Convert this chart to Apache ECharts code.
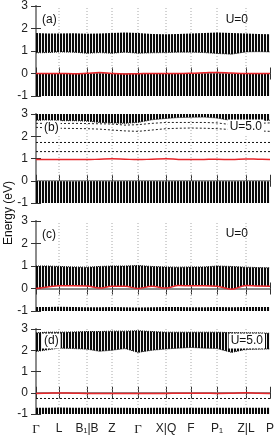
<!DOCTYPE html>
<html><head><meta charset="utf-8">
<script src="https://cdn.jsdelivr.net/npm/echarts@6/dist/echarts.min.js"></script>
<style>html,body{margin:0;padding:0;background:#fff}#c{width:279px;height:441px}</style>
</head><body><div id="c"></div>
<script>
// k-path positions of the high-symmetry points (arbitrary path-length units)
const kPoints = [0, 23, 51, 76, 102, 130, 155, 181, 210, 234];
const kLabels = ['Γ', 'L', 'B₁|B', 'Z', 'Γ', 'X|Q', 'F', 'P₁', 'Z|L', 'P'];
// k-sampling for the band edges
const kGrid = [0, 11.5, 23, 37, 51, 63.5, 76, 89, 102, 116, 130, 142.5, 155, 168, 181, 195.5, 210, 222, 234];
const yTicks = [-1, 0, 1, 2, 3];

// ---- panel (a) U=0
const aCondTop = [1.80, 1.78, 1.78, 1.79, 1.77, 1.78, 1.80, 1.82, 1.80, 1.76, 1.75, 1.76, 1.78, 1.80, 1.82, 1.80, 1.78, 1.76, 1.74];
const aCondBot = [0.92, 0.93, 0.96, 0.95, 0.90, 0.93, 0.90, 0.95, 0.90, 0.92, 0.93, 0.95, 0.95, 0.93, 0.89, 0.86, 0.96, 0.97, 0.96];
const aValTop  = [-0.01, -0.01, -0.01, -0.02, -0.01, 0.0, -0.01, -0.02, -0.02, -0.01, -0.01, -0.01, -0.01, 0.0, 0.0, -0.01, -0.01, -0.01, -0.01];
const aRed     = [0.0, 0.0, 0.0, -0.01, 0.01, 0.04, 0.0, -0.02, -0.01, 0.0, 0.0, 0.0, 0.01, 0.03, 0.05, 0.02, 0.0, 0.0, 0.0];

// ---- panel (b) U=5.0
const bUpBot   = [2.72, 2.72, 2.70, 2.70, 2.68, 2.62, 2.60, 2.58, 2.62, 2.74, 2.80, 2.84, 2.85, 2.86, 2.82, 2.70, 2.66, 2.70, 2.72];
const bDot1    = [2.58, 2.58, 2.57, 2.58, 2.57, 2.56, 2.55, 2.50, 2.52, 2.58, 2.62, 2.62, 2.62, 2.62, 2.60, 2.52, 2.55, 2.58, 2.60];
const bDot2    = [2.40, 2.38, 2.36, 2.35, 2.34, 2.32, 2.28, 2.24, 2.22, 2.28, 2.34, 2.36, 2.37, 2.36, 2.34, 2.30, 2.26, 2.24, 2.22];
const bFlat    = [1.72, 1.31];
const bRed     = [0.96, 0.96, 0.96, 0.95, 0.95, 0.97, 0.99, 0.97, 0.95, 0.97, 0.99, 0.96, 0.95, 0.96, 0.97, 0.95, 0.98, 0.97, 0.96];
const bValTop  = [-0.02, -0.02, -0.02, -0.03, -0.02, -0.02, -0.03, -0.02, -0.02, -0.02, -0.03, -0.02, -0.02, -0.03, -0.02, -0.03, -0.02, -0.02, -0.03];

// ---- panel (c) U=0
const cCondTop = [1.00, 1.00, 0.98, 0.96, 0.95, 0.98, 1.00, 1.00, 1.02, 0.98, 0.96, 0.95, 0.96, 0.96, 1.00, 0.98, 0.95, 0.93, 0.92];
const cRed     = [0.00, 0.07, 0.12, 0.12, 0.11, 0.02, 0.10, 0.10, 0.00, 0.10, 0.02, 0.13, 0.12, 0.12, 0.10, -0.03, 0.13, 0.11, 0.10];
const cLowTop  = [-0.82, -0.82, -0.81, -0.82, -0.83, -0.83, -0.82, -0.83, -0.84, -0.83, -0.82, -0.82, -0.83, -0.83, -0.82, -0.83, -0.82, -0.82, -0.82];

// ---- panel (d) U=5.0
const dUpTop   = [2.82, 2.85, 2.85, 2.86, 2.88, 2.88, 2.90, 2.90, 2.92, 2.88, 2.85, 2.85, 2.85, 2.85, 2.85, 2.83, 2.82, 2.82, 2.80];
const dUpBot   = [1.94, 2.02, 2.10, 2.08, 2.05, 1.95, 2.00, 2.08, 1.90, 2.00, 2.06, 2.10, 2.13, 2.10, 2.08, 1.90, 2.04, 2.05, 2.06];
const dRed     = [-0.03, -0.02, -0.01, -0.02, -0.03, -0.03, -0.04, -0.03, -0.04, -0.03, -0.03, -0.02, -0.02, -0.02, -0.03, -0.02, 0.00, -0.02, -0.03];
const dFlat    = [-0.27];
const dLowTop  = [-0.70, -0.70, -0.69, -0.70, -0.71, -0.71, -0.70, -0.71, -0.72, -0.71, -0.70, -0.70, -0.71, -0.71, -0.70, -0.71, -0.70, -0.70, -0.70];

const yMin = -1, yMax = 3;

// ---------------- rendering ----------------
const pc = document.createElement('canvas');
pc.width = 3; pc.height = 1;
const pg = pc.getContext('2d');
pg.fillStyle = '#f0f0f0'; pg.fillRect(0, 0, 3, 1);
pg.fillStyle = '#0a0a0a'; pg.fillRect(0, 0, 2, 1);
const pattern = { image: pc, repeat: 'repeat' };

const grids = [
  { left: 36, right: 9, top: 6, height: 90 },
  { left: 36, right: 9, top: 114, height: 89 },
  { left: 36, right: 9, top: 221, height: 90 },
  { left: 36, right: 9, top: 329, height: 85 }
];
const font = 'Liberation Sans, Arial, Helvetica, sans-serif';
const axisCol = '#8c8c8c';
const tickCol = '#333';

const xAxis = [], yAxis = [];
grids.forEach((g, i) => {
  const last = i === grids.length - 1;
  xAxis.push({
    type: 'value', gridIndex: i, position: 'bottom', min: 0, max: kPoints[kPoints.length - 1],
    axisLine: { show: true, lineStyle: { color: axisCol, width: 2 } },
    axisTick: { show: true, inside: false, length: 6, customValues: kPoints, lineStyle: { color: tickCol, width: 1 } },
    axisLabel: {
      show: last, customValues: kPoints, margin: 9, color: '#222', fontSize: 12, fontFamily: font,
      formatter: v => {
        const j = kPoints.indexOf(v);
        if (j < 0) return '';
        return kLabels[j] === 'Γ' ? '{g|Γ}' : kLabels[j];
      },
      rich: { g: { fontFamily: 'Liberation Serif, Times New Roman, serif', fontSize: 13, color: '#222' } }
    },
    splitLine: { show: false }
  });
  xAxis.push({
    type: 'value', gridIndex: i, position: 'top', min: 0, max: kPoints[kPoints.length - 1],
    axisLine: { show: true, lineStyle: { color: axisCol, width: 2 } },
    axisTick: { show: true, inside: false, length: 6, customValues: kPoints, lineStyle: { color: tickCol, width: 1 } },
    axisLabel: { show: false }, splitLine: { show: false }
  });
  yAxis.push({
    type: 'value', gridIndex: i, position: 'left', min: yMin, max: yMax, interval: 1,
    axisLine: { show: true, lineStyle: { color: axisCol, width: 2 } },
    axisTick: { show: true, inside: false, length: 5, lineStyle: { color: tickCol, width: 1 } },
    axisLabel: { show: true, margin: 8, color: '#222', fontSize: 12, fontFamily: font },
    splitLine: { show: false }
  });
  yAxis.push({
    type: 'value', gridIndex: i, position: 'right', min: yMin, max: yMax, interval: 1,
    axisLine: { show: true, lineStyle: { color: axisCol, width: 2 } },
    axisTick: { show: true, inside: false, length: 5, lineStyle: { color: tickCol, width: 1 } },
    axisLabel: { show: false }, splitLine: { show: false }
  });
});

const series = [];
function toArr(v) { return Array.isArray(v) ? v : kGrid.map(() => v); }
function band(gi, top, bot) {
  const T = toArr(top), B = toArr(bot);
  series.push({
    type: 'custom', xAxisIndex: 2 * gi, yAxisIndex: 2 * gi, z: 3, silent: true, animation: false,
    data: [[0, 0]],
    renderItem: (params, api) => {
      const pts = [];
      kGrid.forEach((k, j) => pts.push(api.coord([k, T[j]])));
      for (let j = kGrid.length - 1; j >= 0; j--) pts.push(api.coord([kGrid[j], B[j]]));
      return { type: 'polygon', shape: { points: pts }, style: { fill: pattern } };
    }
  });
}
function curve(gi, ys, color, width, type, smooth, z) {
  series.push({
    type: 'line', xAxisIndex: 2 * gi, yAxisIndex: 2 * gi, symbol: 'none', silent: true, animation: false,
    smooth: smooth, z: z, data: kGrid.map((k, j) => [k, ys[j]]),
    lineStyle: { color: color, width: width, type: type }
  });
}
function flat(gi, v) {
  series.push({
    type: 'line', xAxisIndex: 2 * gi, yAxisIndex: 2 * gi, symbol: 'none', silent: true, animation: false, z: 4,
    data: [[kPoints[0], v], [kPoints[kPoints.length - 1], v]],
    lineStyle: { color: '#111', width: 1, type: [2, 2] }
  });
}
function vgrid(gi) {
  series.push({
    type: 'custom', xAxisIndex: 2 * gi, yAxisIndex: 2 * gi, z: 1, silent: true, animation: false,
    data: kPoints.slice(1, -1).map(k => [k, 0]),
    renderItem: (params, api) => {
      const k = api.value(0);
      const p1 = api.coord([k, yMin]), p2 = api.coord([k, yMax]);
      return { type: 'line', shape: { x1: p1[0], y1: p1[1], x2: p2[0], y2: p2[1] },
        style: { stroke: '#a8a8a8', lineWidth: 1, lineDash: [1, 2] } };
    }
  });
}
const red = '#e8262a';
// (a)
vgrid(0);
band(0, aCondTop, aCondBot);
band(0, aValTop, yMin);
curve(0, aCondBot, '#111', 1, [1, 1], false, 4);
curve(0, aRed, red, 1.5, 'solid', 0.4, 6);
// (b)
vgrid(1);
band(1, yMax, bUpBot);
curve(1, bUpBot, '#111', 1, [1, 1], false, 4);
curve(1, bDot1, '#222', 1, [2, 2], false, 4);
curve(1, bDot2, '#222', 1, [2, 2], false, 4);
bFlat.forEach(v => flat(1, v));
curve(1, bRed, red, 1.5, 'solid', 0.4, 6);
band(1, bValTop, yMin);
// (c)
vgrid(2);
band(2, cCondTop, cRed);
curve(2, cCondTop, '#111', 1, [1, 1], false, 4);
curve(2, cRed, red, 1.5, 'solid', 0.4, 6);
band(2, cLowTop, yMin);
// (d)
vgrid(3);
band(3, dUpTop, dUpBot);
curve(3, dUpBot, '#111', 1, [1, 1], false, 4);
curve(3, dUpTop, '#111', 1, [1, 1], false, 4);
dFlat.forEach(v => flat(3, v));
curve(3, dRed, red, 1.5, 'solid', 0.4, 6);
band(3, dLowTop, yMin);

function txt(x, y, s, align, bg) {
  return {
    type: 'text', x: x, y: y, z: 100,
    style: {
      text: s, fill: '#111', font: '12px ' + font, align: align, verticalAlign: 'middle',
      backgroundColor: bg ? '#fff' : 'transparent', padding: bg ? [2, 2, 1, 2] : 0
    }
  };
}
const graphic = [
  txt(42, 20, '(a)', 'left', false),
  txt(248, 20, 'U=0', 'right', false),
  txt(42, 128, '(b)', 'left', true),
  txt(264, 127, 'U=5.0', 'right', true),
  txt(42, 235, '(c)', 'left', false),
  txt(248, 234, 'U=0', 'right', false),
  txt(42, 341, '(d)', 'left', true),
  txt(265, 341, 'U=5.0', 'right', true),
  { type: 'text', x: 9, y: 213, rotation: Math.PI / 2, z: 100,
    style: { text: 'Energy (eV)', fill: '#111', font: '12px ' + font, align: 'center', verticalAlign: 'middle' } }
];

const chart = echarts.init(document.getElementById('c'), null, { renderer: 'canvas' });
chart.setOption({
  animation: false,
  backgroundColor: '#fff',
  grid: grids,
  xAxis: xAxis,
  yAxis: yAxis,
  series: series,
  graphic: graphic
});
</script>
</body></html>
